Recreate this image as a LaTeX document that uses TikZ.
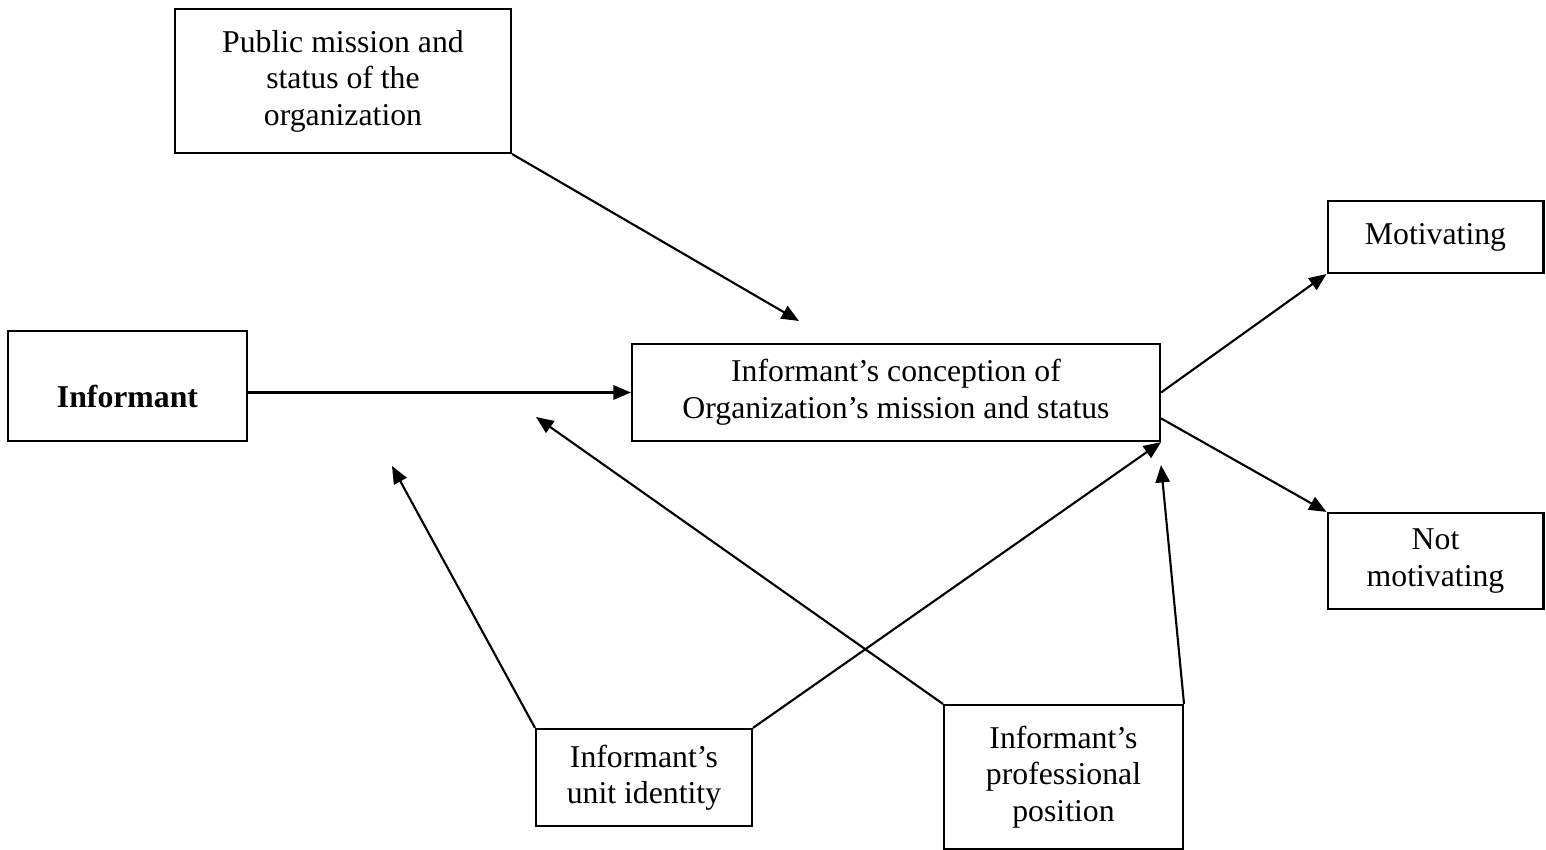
\documentclass[tikz,border=0pt]{standalone}
\usepackage{fontspec}
\setmainfont{Liberation Serif}
\usetikzlibrary{arrows.meta}

\begin{document}
\begin{tikzpicture}[x=0.378pt,y=-0.378pt,line width=0.8pt,
  >={Triangle[length=6.6pt,width=5.4pt]},
  font=\fontsize{12pt}{13.8pt}\selectfont,
  box/.style={draw,rectangle,inner sep=0pt,align=center}]
 \useasboundingbox (0,0) rectangle (1546,850);

 \node[box,minimum width=127pt,minimum height=54.4pt] (public) at (343,81)
 {Public mission and\\status of the\\organization};
 \node[box,minimum width=90.3pt,minimum height=41.6pt] (informant) at (127.5,386)
 {\raisebox{-8.3pt}[0pt][0pt]{\bfseries Informant}};
 \node[box,minimum width=199.6pt,minimum height=36.7pt] (conception) at (896,392.5)
 {Informant’s conception of\\Organization’s mission and status};
 \node[box,minimum width=81.6pt,minimum height=27.2pt] (motivating) at (1435.5,237)
 {Motivating};
 \node[box,minimum width=81.6pt,minimum height=36.3pt] (notmotivating) at (1435.5,561)
 {Not\\motivating};
 \node[box,minimum width=81.6pt,minimum height=36.7pt] (unit) at (644,777.5)
 {Informant’s\\unit identity};
 \node[box,minimum width=90.3pt,minimum height=54.4pt] (position) at (1063.5,777)
 {Informant’s\\professional\\position};

 % free arrow ends that stop short of a box
 \coordinate (public_tip) at (799,321);
 \coordinate (unit_tip) at (392,466);
 \coordinate (position_tip_left) at (536,417);
 \coordinate (position_tip_right) at (1161,465);

 \draw[->] (public.south east) -- (public_tip);
 \draw[->] (informant.east |- conception.west) -- (conception.west);
 \draw[->] (unit.north west) -- (unit_tip);
 \draw[->] (unit.north east) -- (conception.south east);
 \draw[->] (position.north west) -- (position_tip_left);
 \draw[->] (position.north east) -- (position_tip_right);
 \draw[->] (conception.east) -- (motivating.south west);
 \draw[->] ([yshift=-9.8pt]conception.east) -- (notmotivating.north west);
\end{tikzpicture}
\end{document}
